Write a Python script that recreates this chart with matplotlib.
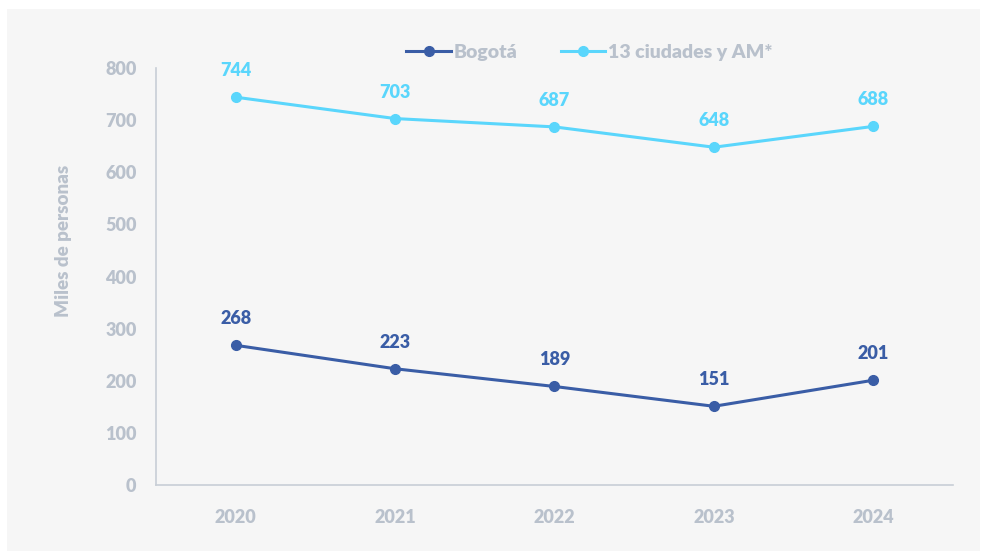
import matplotlib
matplotlib.use("Agg")
import matplotlib.pyplot as plt
from matplotlib.patches import Rectangle

years = [2020, 2021, 2022, 2023, 2024]
bogota = [268, 223, 189, 151, 201]
ciudades = [744, 703, 687, 648, 688]
series_names = ["Bogotá", "13 ciudades y AM*"]
yticks = [0, 100, 200, 300, 400, 500, 600, 700, 800]

plt.rcParams['font.family'] = ['Lato', 'DejaVu Sans']
W = "heavy"

c_bog = "#3a5da6"
c_ciu = "#5ad6fc"
gray = "#b9c1cc"
bg = "#f6f6f6"

fig = plt.figure(figsize=(9.87, 5.58), dpi=100)
fig.patch.set_facecolor("white")
fig.patches.append(Rectangle((7/987, 1 - 551/558), (980-7)/987, (551-9)/558,
                             transform=fig.transFigure, facecolor=bg, edgecolor="none", zorder=-10))

ax = fig.add_axes([156/987, 1 - 485/558, (953-156)/987, (485-68)/558])
ax.set_facecolor(bg)

ax.plot(years, bogota, color=c_bog, lw=2.2, marker="o", ms=7, label=series_names[0])
ax.plot(years, ciudades, color=c_ciu, lw=2.2, marker="o", ms=7, label=series_names[1])

for x, y in zip(years, bogota):
    ax.annotate(str(y), (x, y), xytext=(0, 13), textcoords="offset points",
                ha="center", va="bottom", color=c_bog, fontsize=13, fontweight=W)
for x, y in zip(years, ciudades):
    ax.annotate(str(y), (x, y), xytext=(0, 13), textcoords="offset points",
                ha="center", va="bottom", color=c_ciu, fontsize=13, fontweight=W)

ax.set_xlim(2019.5, 2024.5)
ax.set_ylim(0, 800)
ax.set_xticks(years)
ax.set_xticklabels([str(y) for y in years])
ax.set_yticks(yticks)
for s in ["top", "right"]:
    ax.spines[s].set_visible(False)
for s in ["left", "bottom"]:
    ax.spines[s].set_color("#c8ced6")
    ax.spines[s].set_linewidth(1.2)
ax.tick_params(axis="both", length=0, colors=gray, labelsize=13)
ax.tick_params(axis="y", pad=14)
ax.tick_params(axis="x", pad=17)
for lab in ax.get_xticklabels() + ax.get_yticklabels():
    lab.set_fontweight(W)

ax.set_ylabel("Miles de personas", color=gray, fontsize=13.5, fontweight=W)
ax.yaxis.set_label_coords(-0.105, 0.585)

leg = ax.legend(loc="upper center", bbox_to_anchor=(0.544, 1.1), ncol=2, frameon=False,
                fontsize=14, handlelength=2.3, columnspacing=2.2, handletextpad=0.15)
for t in leg.get_texts():
    t.set_color(gray)
    t.set_fontweight(W)

fig.savefig("out.png", dpi=100)
